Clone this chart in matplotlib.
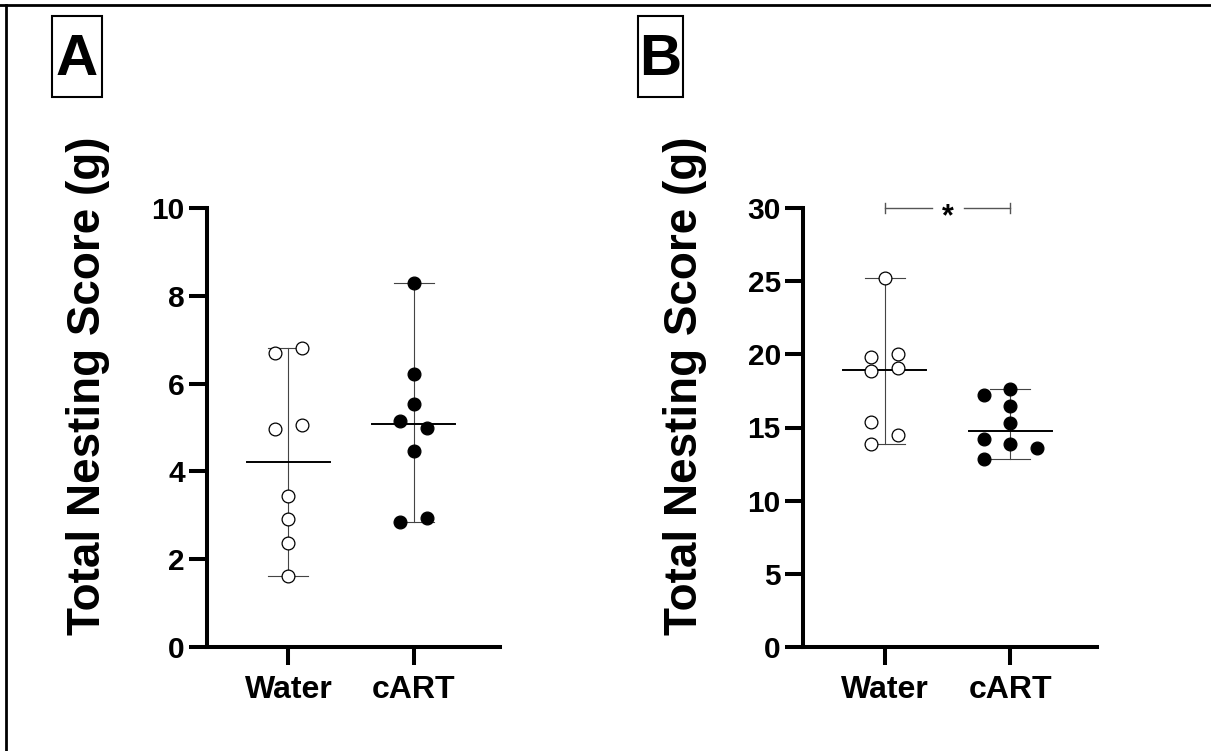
import numpy as np
import matplotlib
matplotlib.use("Agg")
import matplotlib.pyplot as plt
from matplotlib.patches import Rectangle
from matplotlib.lines import Line2D

plt.rcParams["font.family"] = ["Liberation Sans", "DejaVu Sans"]
plt.rcParams["font.weight"] = "bold"

groups = ["Water", "cART"]

# Panel A: nesting score per mouse
water_a = [6.69, 6.82, 4.97, 5.06, 3.44, 2.91, 2.37, 1.62]
cart_a = [8.30, 6.22, 5.54, 5.15, 5.00, 4.47, 2.85, 2.93]

# Panel B: nesting score per mouse
water_b = [25.2, 19.85, 20.03, 18.83, 19.05, 15.37, 14.50, 13.84]
cart_b = [17.64, 17.19, 16.46, 15.32, 14.18, 13.89, 13.59, 12.82]

# side-by-side slots so overlapping points stay visible
slots_water_a = [-1, 1, -1, 1, 0, 0, 0, 0]
slots_cart_a = [0, 0, 0, -1, 1, 0, -1, 1]
slots_water_b = [0, -1, 1, -1, 1, -1, 1, -1]
slots_cart_b = [0, -2, 0, 0, -2, 0, 2, -2]

SLOT_W = 0.105
W, H = 1211, 751


def scatter_group(ax, xc, vals, slots, filled):
    vals = np.asarray(vals)
    lo, hi, med = vals.min(), vals.max(), np.median(vals)
    # range bar with caps, median line
    ax.plot([xc, xc], [lo, hi], color="#444444", lw=0.8, zorder=2, clip_on=False)
    for v in (lo, hi):
        ax.plot([xc - 0.16, xc + 0.16], [v, v], color="#444444", lw=0.8, zorder=2, clip_on=False)
    ax.plot([xc - 0.33, xc + 0.33], [med, med], color="black", lw=1.4, zorder=2, clip_on=False)
    xs = xc + np.asarray(slots) * SLOT_W
    ax.plot(xs, vals, "o", ms=9.2, mec="black", mew=0.9,
            mfc="black" if filled else "white", zorder=3, clip_on=False)


def style_axis(ax, ymax, step):
    for s in ("top", "right"):
        ax.spines[s].set_visible(False)
    for s in ("left", "bottom"):
        ax.spines[s].set_linewidth(2.9)
    ax.set_xlim(-0.65, 1.69)
    ax.set_ylim(0, ymax)
    ax.set_yticks(np.arange(0, ymax + step / 2, step))
    ax.set_xticks([0, 1])
    ax.set_xticklabels(groups)
    ax.tick_params(axis="both", length=13, width=2.9, colors="black")
    ax.tick_params(axis="y", labelsize=21.5, pad=3)
    ax.tick_params(axis="x", labelsize=23, pad=7)
    for lab in ax.get_xticklabels() + ax.get_yticklabels():
        lab.set_fontweight("bold")


fig = plt.figure(figsize=(W / 100, H / 100), dpi=100)

axA = fig.add_axes([207 / W, 1 - 647 / H, 293 / W, 439 / H])
scatter_group(axA, 0, water_a, slots_water_a, False)
scatter_group(axA, 1, cart_a, slots_cart_a, True)
style_axis(axA, 10, 2)

axB = fig.add_axes([803 / W, 1 - 647 / H, 294 / W, 439 / H])
scatter_group(axB, 0, water_b, slots_water_b, False)
scatter_group(axB, 1, cart_b, slots_cart_b, True)
style_axis(axB, 30, 5)

# significance bracket between groups in panel B
sig_y = 30
br = dict(color="#555555", lw=1.0, clip_on=False)
axB.plot([0, 0.375], [sig_y, sig_y], **br)
axB.plot([0.63, 1], [sig_y, sig_y], **br)
axB.plot([0, 0], [sig_y - 0.35, sig_y + 0.35], **br)
axB.plot([1, 1], [sig_y - 0.35, sig_y + 0.35], **br)
axB.text(0.5, sig_y - 0.6, "*", ha="center", va="center", fontsize=22, fontweight="bold")

# y-axis titles
for xpix in (88, 685):
    fig.text(xpix / W, 1 - 386 / H, "Total Nesting Score (g)", rotation=90,
             ha="center", va="center", fontsize=33, fontweight="bold")

# boxed panel letters
for letter, x0, x1 in (("A", 52, 102), ("B", 638, 683)):
    fig.patches.append(Rectangle((x0 / W, 1 - 97 / H), (x1 - x0) / W, 81 / H,
                                 transform=fig.transFigure, fill=False,
                                 ec="black", lw=1.5))
    fig.text((x0 + x1) / 2 / W, 1 - 60 / H, letter, ha="center", va="center",
             fontsize=42, fontweight="bold")

# outer frame (top and left edges)
fig.add_artist(Line2D([0, 1], [1 - 4.5 / H, 1 - 4.5 / H], color="black", lw=2,
                      transform=fig.transFigure))
fig.add_artist(Line2D([6 / W, 6 / W], [0, 1 - 4.5 / H], color="black", lw=2,
                      transform=fig.transFigure))

fig.savefig("out.png", dpi=100)
